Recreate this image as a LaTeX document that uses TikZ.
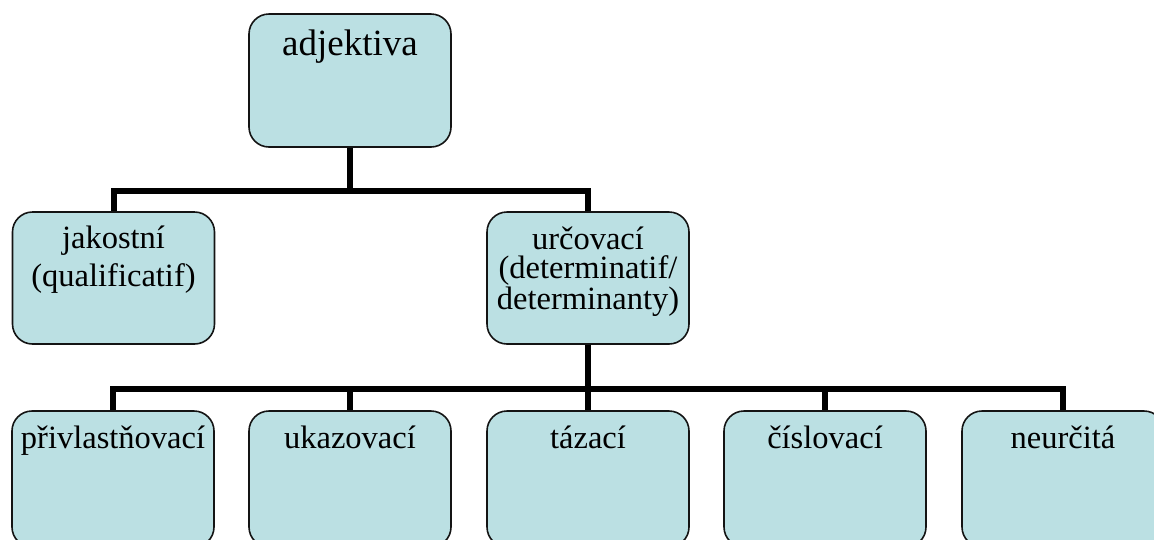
\documentclass[tikz,border=0pt]{standalone}
\usepackage{fontspec}
\setmainfont{Liberation Serif}
\definecolor{boxfill}{RGB}{187,224,227}
\definecolor{boxline}{RGB}{20,20,20}
\begin{document}
\begin{tikzpicture}[x=1pt,y=-1pt,
  box/.style={draw=boxline,fill=boxfill,line width=1.6pt,rectangle,
    rounded corners=20pt,minimum width=202pt,minimum height=133pt,inner sep=0pt},
  lowbox/.style={box,minimum height=136pt},
  lbl/.style={anchor=base,inner sep=0pt,align=center,font=\fontsize{32.5}{34}\selectfont},
  biglbl/.style={lbl,font=\fontsize{37}{40}\selectfont},
  conn/.style={line width=6pt,black,line join=miter}]
\useasboundingbox (0,0) rectangle (1154,539);
\clip (0,0) rectangle (1154,539);

% boxes
\node[box] (adj) at (350,80.5) {};
\node[box,minimum height=132pt] (jak) at (113.5,278) {};
\node[box,minimum height=132pt] (urc) at (588,278) {};
\node[lowbox] (p1) at (113,479) {};
\node[lowbox] (p2) at (350,479) {};
\node[lowbox] (p3) at (588,479) {};
\node[lowbox] (p4) at (825,479) {};
\node[lowbox] (p5) at (1063,479) {};

% tree connectors
\draw[conn] (adj.south) -- ++(0,43) -| (jak.north);
\draw[conn] (adj.south) -- ++(0,43) -| (urc.north);
\foreach \n in {p1,p2,p3,p4,p5}
  \draw[conn] (urc.south) -- ++(0,44) -| (\n.north);

% labels (multi-line labels are placed by the baseline of their last line)
\node[biglbl] (adjt) at (350,55) {adjektiva};
\node[lbl,font=\fontsize{32.5}{36}\selectfont] (jakt) at (113.5,286)
  {jakostní\\[2pt](qualificatif)};
\node[lbl,font=\fontsize{32.5}{29}\selectfont] (urct) at (588,309)
  {určovací\\(determinatif/\\determinanty)};
\node[lbl] (p1t) at (113,448) {přivlastňovací};
\node[lbl] (p2t) at (350,448) {ukazovací};
\node[lbl] (p3t) at (588,448) {tázací};
\node[lbl] (p4t) at (825,448) {číslovací};
\node[lbl] (p5t) at (1063,448) {neurčitá};
\end{tikzpicture}
\end{document}
